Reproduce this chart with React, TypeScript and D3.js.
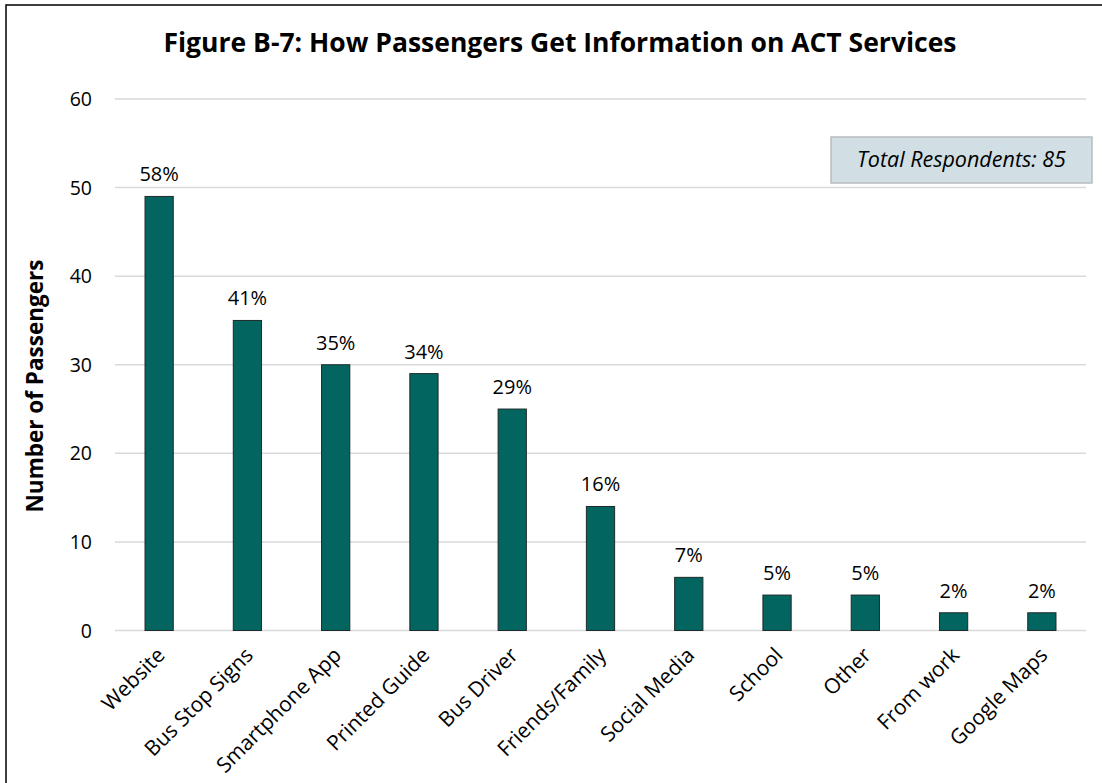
import React from "react";
import * as d3 from "d3";

const categories = ["Website", "Bus Stop Signs", "Smartphone App", "Printed Guide", "Bus Driver", "Friends/Family", "Social Media", "School", "Other", "From work", "Google Maps"];
const counts = [49, 35, 30, 29, 25, 14, 6, 4, 4, 2, 2];
const percentLabels = ["58%", "41%", "35%", "34%", "29%", "16%", "7%", "5%", "5%", "2%", "2%"];
const yTicks = [0, 10, 20, 30, 40, 50, 60];
const titleText = "Figure B-7: How Passengers Get Information on ACT Services";
const yAxisTitle = "Number of Passengers";
const noteText = "Total Respondents: 85";

const W = 1102;
const H = 783;
const FONT = "'Open Sans', 'Noto Sans', sans-serif";

export default function App() {
  const left = 115, right = 1086, top = 99, bottom = 630.5;
  const x = d3.scaleBand<string>().domain(categories).range([left, right]).paddingInner(0.68).paddingOuter(0.34);
  const y = d3.scaleLinear().domain([0, 60]).range([bottom, top]);
  const bw = x.bandwidth();

  return (
    <div style={{ position: "absolute", left: 0, top: 0 }}>
      <svg width={W} height={H} style={{ display: "block", fontFamily: FONT }}>
        <rect x={0} y={0} width={W} height={H} fill="#fff" />
        <rect x={6} y={5} width={W + 20} height={H + 20} fill="none" stroke="#000" strokeWidth={1.5} />
        <text x={560} y={52} textAnchor="middle" fontSize={26.5} fontWeight={700} fill="#000">{titleText}</text>

        {yTicks.map((t) => (
          <g key={t}>
            <line x1={left} x2={right} y1={y(t)} y2={y(t)} stroke="#d9d9d9" strokeWidth={1.5} />
            <text x={92} y={y(t)} dy="0.36em" textAnchor="end" fontSize={19.5} fill="#000">{t}</text>
          </g>
        ))}

        <text transform={`translate(43, 386) rotate(-90)`} textAnchor="middle" fontSize={22.5} fontWeight={700} fill="#000">{yAxisTitle}</text>

        {categories.map((c, i) => {
          const bx = x(c) as number;
          const cx = bx + bw / 2;
          return (
            <g key={c}>
              <rect x={bx} y={y(counts[i])} width={bw} height={y(0) - y(counts[i])} fill="#026560" stroke="#1f2a2a" strokeWidth={1} />
              <text x={cx} y={y(counts[i]) - 15} textAnchor="middle" fontSize={20} fill="#000">{percentLabels[i]}</text>
              <text transform={`translate(${cx + 7}, ${bottom + 26}) rotate(-45)`} textAnchor="end" fontSize={21} fill="#000">{c}</text>
            </g>
          );
        })}

        <rect x={831} y={137} width={261} height={46} fill="#d1dfe4" stroke="#b8bcbe" strokeWidth={1.5} />
        <text x={961.5} y={167} textAnchor="middle" fontSize={21.5} fontStyle="italic" fill="#000">{noteText}</text>
      </svg>
    </div>
  );
}
